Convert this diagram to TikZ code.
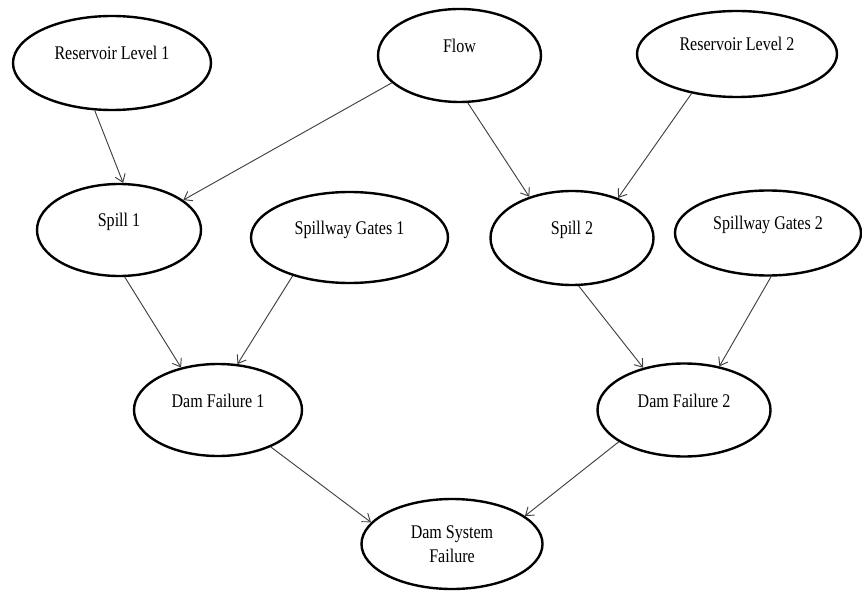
\documentclass[tikz,border=0pt]{standalone}
\usepackage{fontspec}
\setmainfont{Liberation Serif}[FakeStretch=0.83]
\usetikzlibrary{shapes.geometric,arrows.meta}

% single-line captions sit slightly above the centre of their ellipse
\newcommand\raisedcap[1]{\raisebox{2.25pt}[0pt][0pt]{#1}}

\tikzset{
  var/.style 2 args={ellipse, draw=black, line width=1.8pt, inner sep=0pt,
    minimum width=#1*0.75pt, minimum height=#2*0.75pt,
    font=\fontsize{14.5}{18}\selectfont, align=center},
  link/.style={draw=black!75, line width=0.7pt,
    -{Straight Barb[length=5.5pt,width=8pt,line width=0.7pt]}}
}

\begin{document}
\begin{tikzpicture}[x=0.75pt, y=-0.75pt]
  \useasboundingbox (0,0) rectangle (862,591);

  % top row
  \node[var={198}{94}] (rl1)  at (112,63)     {\raisedcap{Reservoir Level 1}};
  \node[var={163}{93}] (flow) at (459.5,55.5) {\raisedcap{Flow}};
  \node[var={200}{86}] (rl2)  at (737,54)     {\raisedcap{Reservoir Level 2}};

  % middle row
  \node[var={164}{92}] (sp1) at (119,230)     {\raisedcap{Spill 1}};
  \node[var={197}{91}] (sg1) at (349.5,237.5) {\raisedcap{Spillway Gates 1}};
  \node[var={163}{94}] (sp2) at (572,238)     {\raisedcap{Spill 2}};
  \node[var={186}{85}] (sg2) at (768,233)     {\raisedcap{Spillway Gates 2}};

  % failure nodes
  \node[var={168}{92}] (df1) at (218,410) {\raisedcap{Dam Failure 1}};
  \node[var={173}{93}] (df2) at (684,410) {\raisedcap{Dam Failure 2}};
  \node[var={181}{90}] (dsf) at (452,544) {Dam System\\Failure};

  % dependencies
  \draw[link] (rl1.250)   -- (sp1.85);
  \draw[link] (flow.202)  -- (sp1.25);
  \draw[link] (flow.280)  -- (sp2.136);
  \draw[link] (rl2.221)   -- (sp2.41);
  \draw[link] (sp1.277)   -- (df1.131);
  \draw[link] (sg1.214)   -- (df1.67);
  \draw[link] (sp2.278)   -- (df2.134);
  \draw[link] (sg2.274)   -- (df2.51);
  \draw[link] (df1.325)   -- (dsf.165);
  \draw[link] (df2.206)   -- (dsf.21);
\end{tikzpicture}
\end{document}
